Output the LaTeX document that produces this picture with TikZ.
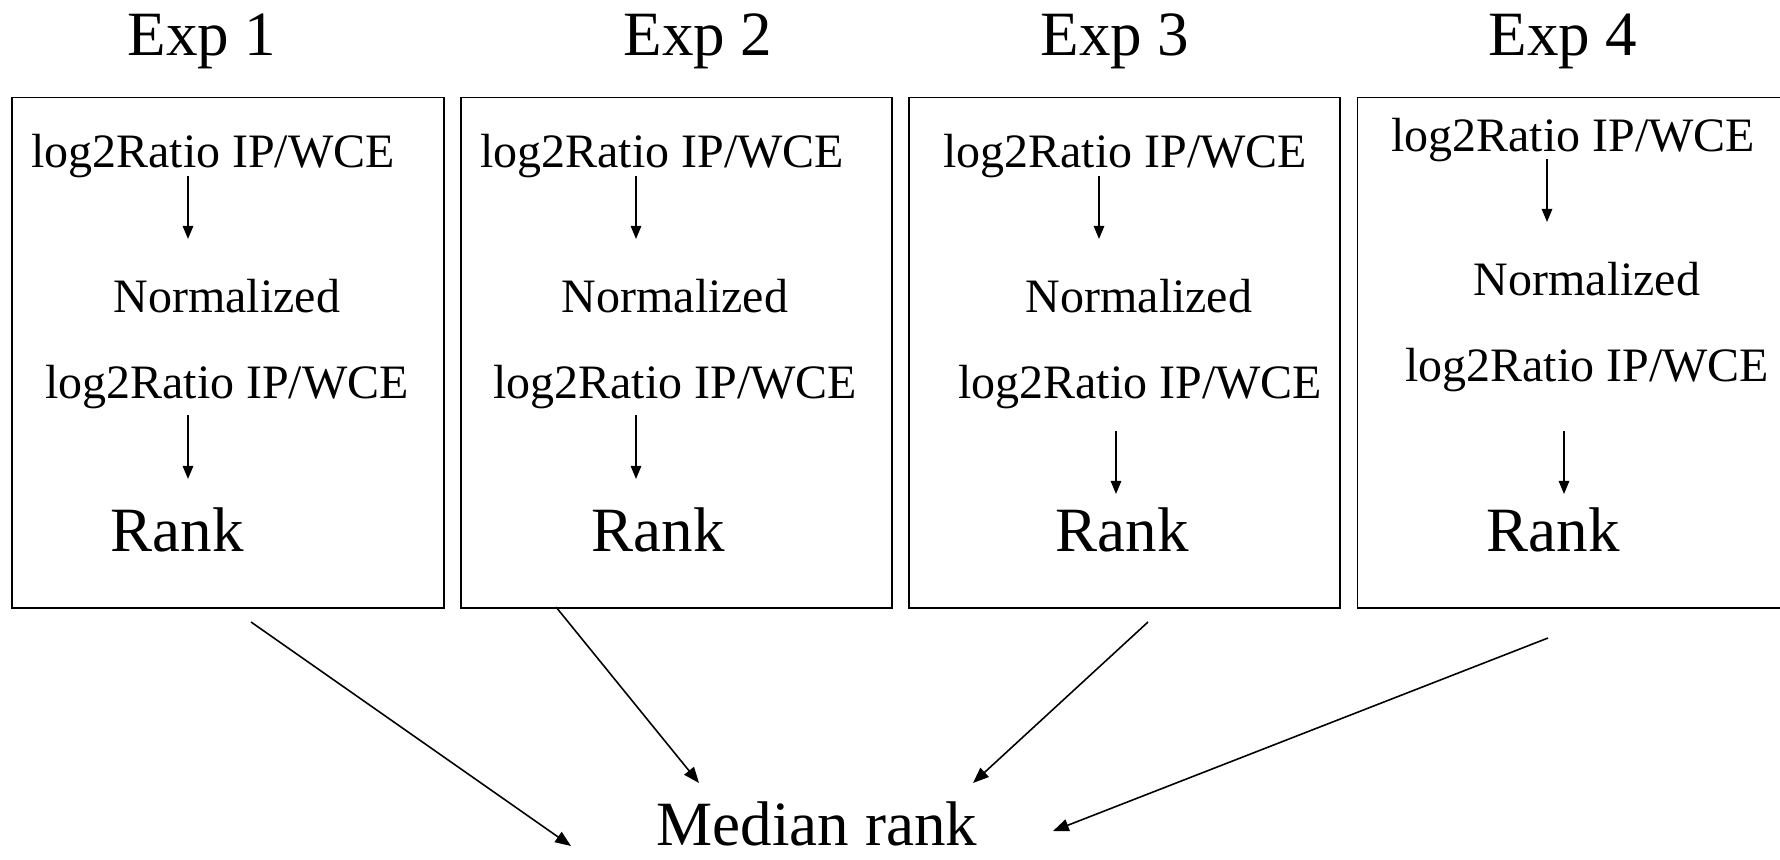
\documentclass[tikz,border=0pt]{standalone}
\usepackage{fontspec}
\setmainfont{Liberation Serif}
\usetikzlibrary{arrows.meta}

\tikzset{
  frame/.style={draw, line width=1.1pt, inner sep=0pt, anchor=north west,
                minimum width=8.626cm, minimum height=10.216cm},
  small/.style={inner sep=0pt, anchor=base, font=\fontsize{27.3pt}{30pt}\selectfont},
  big/.style={inner sep=0pt, anchor=base, font=\fontsize{35.9pt}{40pt}\selectfont},
  flow/.style={line width=0.85pt, -{Triangle[length=7.5pt, width=6pt]}},
  merge/.style={line width=0.9pt, -{Triangle[length=9pt, width=7pt]}},
}

\begin{document}
\begin{tikzpicture}[x=0.02cm, y=-0.02cm]
  \useasboundingbox (0,0) rectangle (1780,859);

  % experiment frames
  \node[frame] (box1) at (11.4,96.5) {};
  \node[frame] (box2) at (459.8,96.5) {};
  \node[frame] (box3) at (908.2,96.5) {};
  \node[frame] (box4) at (1356.5,96.5) {};

  % headings
  \node[big] (t1) at (202,55) {Exp 1};
  \node[big] (t2) at (698,55) {Exp 2};
  \node[big] (t3) at (1115,55) {Exp 3};
  \node[big] (t4) at (1563,55) {Exp 4};

  % experiment 1
  \node[small] (r1a) at (213,167) {log2Ratio IP/WCE};
  \node[small] (n1)  at (227,312) {Normalized};
  \node[small] (r1b) at (227,398) {log2Ratio IP/WCE};
  \node[big]   (k1)  at (177,551) {Rank};
  \coordinate (p1a) at (188,176); \coordinate (q1a) at (188,239);
  \coordinate (p1b) at (188,415); \coordinate (q1b) at (188,479);

  % experiment 2
  \node[small] (r2a) at (662,167) {log2Ratio IP/WCE};
  \node[small] (n2)  at (675,312) {Normalized};
  \node[small] (r2b) at (675,398) {log2Ratio IP/WCE};
  \node[big]   (k2)  at (658,551) {Rank};
  \coordinate (p2a) at (636,176); \coordinate (q2a) at (636,239);
  \coordinate (p2b) at (636,415); \coordinate (q2b) at (636,479);

  % experiment 3
  \node[small] (r3a) at (1125,167) {log2Ratio IP/WCE};
  \node[small] (n3)  at (1139,312) {Normalized};
  \node[small] (r3b) at (1140,398) {log2Ratio IP/WCE};
  \node[big]   (k3)  at (1122,551) {Rank};
  \coordinate (p3a) at (1099,176); \coordinate (q3a) at (1099,239);
  \coordinate (p3b) at (1116,431); \coordinate (q3b) at (1116,494);

  % experiment 4
  \node[small] (r4a) at (1573,151) {log2Ratio IP/WCE};
  \node[small] (n4)  at (1587,295) {Normalized};
  \node[small] (r4b) at (1587,381) {log2Ratio IP/WCE};
  \node[big]   (k4)  at (1553,551) {Rank};
  \coordinate (p4a) at (1547,159); \coordinate (q4a) at (1547,222);
  \coordinate (p4b) at (1564,431); \coordinate (q4b) at (1564,494);

  \foreach \i in {1,2,3,4} {
    \draw[flow] (p\i a) -- (q\i a);
    \draw[flow] (p\i b) -- (q\i b);
  }

  % combined result
  \node[big] (med) at (817,845) {Median rank};
  \coordinate (s1) at (251,622);  \coordinate (e1) at (571,846);
  \coordinate (s2) at (556,607);  \coordinate (e2) at (699,783);
  \coordinate (s3) at (1148,622); \coordinate (e3) at (973,783);
  \coordinate (s4) at (1548,638); \coordinate (e4) at (1053,831);
  \foreach \i in {1,2,3,4} {
    \draw[merge] (s\i) -- (e\i);
  }
\end{tikzpicture}
\end{document}
